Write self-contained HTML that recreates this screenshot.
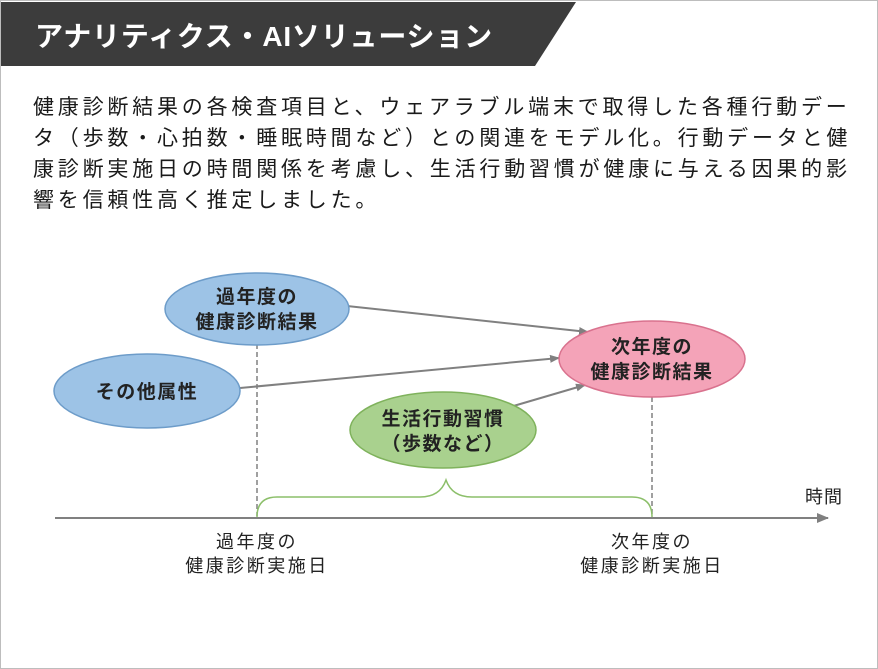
<!DOCTYPE html>
<html><head><meta charset="utf-8"><style>
html,body{margin:0;padding:0;background:#fff;}
body{width:878px;height:669px;position:relative;overflow:hidden;font-family:"Liberation Sans","Noto Sans CJK JP",sans-serif;}
.frame{position:absolute;left:0;top:0;width:876px;height:667px;border:1px solid #bdbdbd;}
.p{position:absolute;left:33px;top:92px;font-size:21px;letter-spacing:3.8px;line-height:31px;color:#1a1a1a;white-space:nowrap;}
</style></head><body>
<div class="frame"></div>
<svg width="878" height="669" style="position:absolute;left:0;top:0" font-family="Liberation Sans, Noto Sans CJK JP, sans-serif">
<polygon points="1,2 576,2 535,66 1,66" fill="#3c3c3c"/>
<text x="35" y="46" fill="#fff" font-size="28" font-weight="bold" letter-spacing="0.8">アナリティクス・AIソリューション</text>
<defs><marker id="a" markerWidth="10" markerHeight="8" refX="9" refY="4" orient="auto" markerUnits="userSpaceOnUse"><path d="M0,0 L10,4 L0,8 z" fill="#808080"/></marker>
<marker id="b" markerWidth="12" markerHeight="10" refX="11" refY="5" orient="auto" markerUnits="userSpaceOnUse"><path d="M0,0 L12,5 L0,10 z" fill="#808080"/></marker></defs>
<line x1="257" y1="344" x2="257" y2="516" stroke="#808080" stroke-width="1.5" stroke-dasharray="5,3"/>
<line x1="652" y1="397" x2="652" y2="516" stroke="#808080" stroke-width="1.5" stroke-dasharray="5,3"/>
<line x1="55" y1="518" x2="828" y2="518" stroke="#808080" stroke-width="2" marker-end="url(#b)"/>
<path d="M257,517 Q257,497 277,497 L420,497 Q440,497 446,480 Q452,497 472,497 L632,497 Q652,497 652,517" fill="none" stroke="#8cbf6a" stroke-width="1.5"/>
<line x1="347" y1="306" x2="588" y2="332" stroke="#808080" stroke-width="2" marker-end="url(#a)"/>
<line x1="240" y1="388" x2="559" y2="358" stroke="#808080" stroke-width="2" marker-end="url(#a)"/>
<line x1="510" y1="407" x2="585" y2="385" stroke="#808080" stroke-width="2" marker-end="url(#a)"/>
<ellipse cx="257" cy="309" rx="92" ry="36" fill="#9dc3e6" stroke="#6d9cc9" stroke-width="1.5"/>
<ellipse cx="147" cy="391" rx="93" ry="37" fill="#9dc3e6" stroke="#6d9cc9" stroke-width="1.5"/>
<ellipse cx="652" cy="359" rx="93" ry="38" fill="#f4a3b8" stroke="#d9728e" stroke-width="1.5"/>
<ellipse cx="443" cy="430" rx="93" ry="38" fill="#a9d18e" stroke="#7fb25c" stroke-width="1.5"/>
<g font-size="19" font-weight="bold" fill="#222" text-anchor="middle" letter-spacing="1.5">
<text x="257" y="303">過年度の</text><text x="257" y="328">健康診断結果</text>
<text x="147" y="398">その他属性</text>
<text x="652" y="353">次年度の</text><text x="652" y="378">健康診断結果</text>
<text x="443" y="425">生活行動習慣</text><text x="443" y="450">（歩数など）</text>
</g>
<g font-size="18" fill="#222" text-anchor="middle" letter-spacing="2.5">
<text x="257" y="548">過年度の</text><text x="257" y="572">健康診断実施日</text>
<text x="652" y="548">次年度の</text><text x="652" y="572">健康診断実施日</text>
<text x="824" y="503" letter-spacing="1">時間</text>
</g>
</svg>
<div class="p">健康診断結果の各検査項目と、ウェアラブル端末で取得した各種行動デー<br>タ（歩数・心拍数・睡眠時間など）との関連をモデル化。行動データと健<br>康診断実施日の時間関係を考慮し、生活行動習慣が健康に与える因果的影<br>響を信頼性高く推定しました。</div>
</body></html>
